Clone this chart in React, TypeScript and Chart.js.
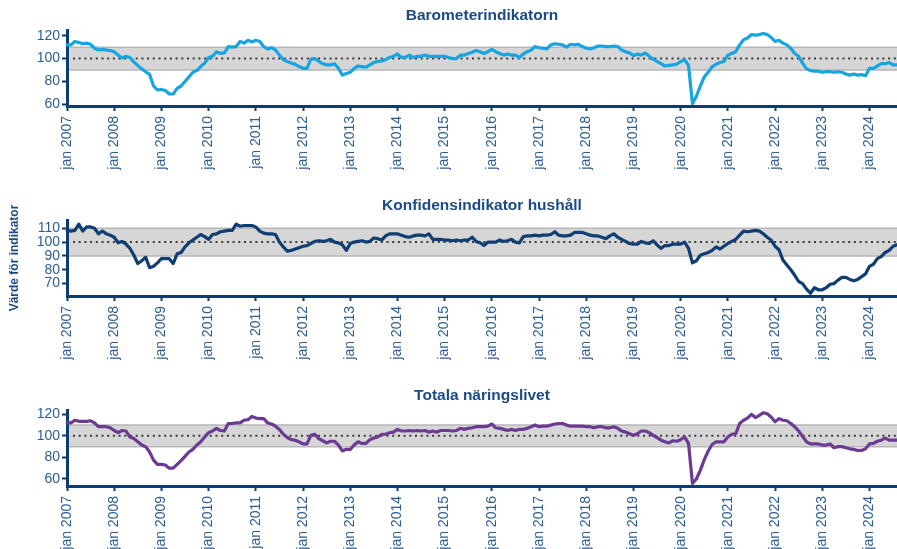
import React, { useEffect, useRef } from 'react';
import { Chart, registerables } from 'chart.js';

Chart.register(...registerables);

// ---- Data ----
const monthNames = ['jan', 'feb', 'mar', 'apr', 'maj', 'jun', 'jul', 'aug', 'sep', 'okt', 'nov', 'dec'];
const startYear = 2007;
const monthCount = 212; // jan 2007 .. aug 2024
const categories: string[] = Array.from({ length: monthCount }, (_, i) => `${monthNames[i % 12]} ${startYear + Math.floor(i / 12)}`);

const barometer: number[] = [
  112, 112, 115, 114, 113, 113.5, 112.5, 109, 107.5, 108, 107.5, 107,
  106, 103, 100.5, 102, 101, 97, 94, 91, 88.5, 86, 76, 72.5,
  73, 72, 69, 69, 74, 76, 80, 84, 88, 89.5, 93, 96,
  101, 102, 106, 104.5, 105, 110.5, 110, 110.5, 115, 113.5, 116, 114.5,
  116, 115, 110.5, 108.5, 109.5, 107.5, 103, 99, 97.5, 96, 95, 93,
  91.5, 91.5, 99.5, 100, 97.5, 95.5, 94.5, 94.5, 95.5, 91.5, 85.5, 87,
  88, 91.5, 93.5, 93, 92.5, 94.5, 96.5, 97.5, 98, 99, 101, 102,
  104, 101, 101, 103, 101, 102, 102, 103, 102, 102, 102, 102,
  102, 101, 100, 100, 103, 103, 104.5, 105.5, 107, 106, 104.5, 106,
  108, 106, 104.5, 103, 104, 103, 103, 101, 104, 106, 107.5, 110.5,
  109.5, 109, 108.5, 112, 113, 112.5, 112, 110, 112.5, 112, 112.5, 110.5,
  109, 108.5, 109.5, 111, 111, 110.5, 110.5, 111, 110.5, 107.5, 106, 105,
  102.5, 104, 103, 105, 102, 99.5, 97.5, 95.5, 93.5, 94, 94.5, 95,
  97.5, 99, 94, 60.5, 67, 76, 84, 88, 93, 95, 96.5, 97.5,
  103, 104.5, 106, 112, 116.5, 118, 121, 120.5, 121, 122, 121, 118.5,
  115, 116, 113.5, 112, 109, 104.5, 102, 96, 91, 89.5, 89, 89,
  88, 88.5, 88.5, 88, 88.5, 88, 86.5, 85.5, 86.5, 85.5, 86, 85,
  91.5, 91.5, 93.5, 95.5, 95.5, 96.5, 94.5, 94.5,
];

const hushall: number[] = [
  108.5, 108, 108.5, 113, 108, 111, 111, 110, 106, 108, 106, 105,
  103.5, 99.5, 100.5, 98.5, 95.5, 90.5, 84.5, 86.5, 89, 81.5, 82.5, 85,
  88, 88, 88, 84.5, 91.5, 92.5, 96.5, 99.5, 101.5, 103.5, 105.5, 104,
  102, 105.5, 106, 107.5, 108, 108.5, 108.5, 113, 111.5, 112, 112, 112,
  111, 108, 106.5, 106, 106, 105.5, 100, 96.5, 93.5, 94, 95, 96,
  97, 97.5, 99, 100.5, 101, 100.5, 101, 102, 100, 99.5, 98, 94,
  99, 100, 100.5, 101, 100, 100.5, 103, 102.5, 101.5, 104.5, 106, 106,
  106, 105, 104, 103.5, 104.5, 105, 105, 104.5, 106, 102, 102, 102,
  101.5, 101.5, 101, 101.5, 101, 101.5, 101.5, 103.5, 100.5, 99.5, 97.5, 100,
  100, 100, 101.5, 100.5, 101, 102, 100, 99.5, 104, 104.5, 104.5, 105,
  104.5, 105, 105, 105.5, 107.5, 105, 104.5, 104.5, 105, 107, 107, 107,
  106, 105, 104.5, 104.5, 103.5, 102.5, 104.5, 106, 103.5, 102, 100.5, 99,
  98.5, 98.5, 100.5, 99.5, 99, 101, 98, 95.5, 97.5, 97.5, 98.5, 98.5,
  98.5, 100, 95.5, 85, 86.5, 90.5, 91.5, 92.5, 94, 96.5, 95, 97,
  99, 100.5, 102, 105, 108, 107.5, 108, 108.5, 108, 106, 103.5, 101.5,
  97, 94.5, 87, 83.5, 80, 76, 71.5, 70, 66, 63, 67, 65.5,
  65.5, 67, 69.5, 70, 72.5, 74.5, 74.5, 73, 72, 73, 75, 77,
  82.5, 84, 88, 89.5, 92.5, 94, 97, 98,
];

const naringsliv: number[] = [
  112, 112, 114.5, 113.5, 113.5, 113.5, 114, 112, 108.5, 108.5, 108.5, 107.5,
  105, 103, 105, 104.5, 99, 97.5, 94.5, 91.5, 90, 85, 77.5, 73.5,
  73.5, 73, 70, 70, 73.5, 77, 81, 85, 87.5, 91.5, 94.5, 99,
  103, 104.5, 107, 105, 104.5, 111.5, 111.5, 112, 112, 114.5, 115, 118,
  116.5, 116, 116, 112, 111, 109, 106, 101.5, 98.5, 96.5, 96, 94.5,
  92.5, 92.5, 100.5, 101.5, 97.5, 95.5, 93.5, 95, 95, 91.5, 86, 87.5,
  87.5, 91.5, 94.5, 93, 93, 96.5, 98, 99, 101.5, 101.5, 103, 103.5,
  106, 104.5, 104.5, 105, 104.5, 105, 104.5, 105, 103.5, 104.5, 103.5, 105,
  105, 105, 104.5, 105, 107, 106, 107, 107.5, 108.5, 108.5, 108.5, 109,
  111, 107.5, 107, 106, 105, 106, 105, 106, 106, 107, 108.5, 110,
  108.5, 109, 109, 110, 111, 111.5, 111.5, 110, 109, 109, 109, 109,
  108.5, 108.5, 107.5, 108.5, 108.5, 107.5, 107.5, 108.5, 107, 104.5, 103.5, 102,
  100.5, 102, 104.5, 104.5, 103, 100.5, 98.5, 96, 94.5, 93.5, 95.5, 95,
  96.5, 99, 93, 56, 60, 68, 78, 86, 92, 94.5, 94.5, 94.5,
  99, 101.5, 102, 111.5, 114.5, 116.5, 120, 117, 119, 121.5, 120.5, 117.5,
  113, 116, 114.5, 114, 111.5, 108.5, 104.5, 99.5, 94.5, 92.5, 92.5, 92.5,
  91.5, 91.5, 92.5, 89, 90, 90, 89, 88, 87.5, 86.5, 86.5, 88,
  92.5, 93, 95, 96, 98, 96, 96, 96,
];

const titles = ['Barometerindikatorn', 'Konfidensindikator hushåll', 'Totala näringslivet'];
const yTitle = 'Värde för indikator';
const yTicksTop = [60, 80, 100, 120];
const yTicksMiddle = [70, 80, 90, 100, 110];
const yTicksBottom = [60, 80, 100, 120];
const bandLow = 90;
const bandHigh = 110;
const refLevel = 100;

// ---- Styling ----
const FONT = '"Liberation Sans", Arial, sans-serif';
const NAVY = '#0d3b74';
const TITLE_COLOR = '#1c4a86';
const LABEL_COLOR = '#2d5d94';
Chart.defaults.font.family = FONT;

const bandPlugin = {
  id: 'bandAndTitle',
  beforeDraw(chart: any) {
    const { ctx, chartArea: a, scales } = chart;
    const y = scales.y;
    const yHi = y.getPixelForValue(bandHigh);
    const yLo = y.getPixelForValue(bandLow);
    const yRef = y.getPixelForValue(refLevel);
    ctx.save();
    ctx.fillStyle = '#d6d6d6';
    ctx.fillRect(a.left, yHi, a.right - a.left, yLo - yHi);
    ctx.strokeStyle = '#b7b7b7';
    ctx.lineWidth = 1.5;
    ctx.beginPath();
    ctx.moveTo(a.left, yHi); ctx.lineTo(a.right, yHi);
    ctx.moveTo(a.left, yLo); ctx.lineTo(a.right, yLo);
    ctx.stroke();
    ctx.setLineDash([2, 3.7]);
    ctx.strokeStyle = '#3a3a3a';
    ctx.lineWidth = 2;
    ctx.beginPath();
    ctx.moveTo(a.left + 6, yRef); ctx.lineTo(a.right, yRef);
    ctx.stroke();
    ctx.restore();
  },
  afterDraw(chart: any, _args: any, opts: any) {
    const { ctx, chartArea: a } = chart;
    ctx.save();
    ctx.font = `bold 15.5px ${FONT}`;
    ctx.fillStyle = TITLE_COLOR;
    ctx.textAlign = 'center';
    ctx.textBaseline = 'middle';
    ctx.fillText(opts.text, (a.left + a.right) / 2, opts.y);
    ctx.restore();
  },
};

type PanelProps = {
  title: string;
  data: number[];
  color: string;
  yMin: number;
  yMax: number;
  yTicks: number[];
  showYTitle: boolean;
  top: number;
  height: number;
  areaTop: number;
  areaBottom: number;
  titleY: number;
};

function Panel(p: PanelProps) {
  const ref = useRef<HTMLCanvasElement | null>(null);
  useEffect(() => {
    if (!ref.current) return;
    const chart = new Chart(ref.current, {
      type: 'line',
      data: {
        labels: categories,
        datasets: [
          {
            data: p.data,
            borderColor: p.color,
            backgroundColor: p.color,
            borderWidth: 3.2,
            pointRadius: 0,
            tension: 0,
            borderJoinStyle: 'round',
            borderCapStyle: 'round',
          },
        ],
      },
      options: {
        animation: false,
        responsive: false,
        maintainAspectRatio: false,
        events: [],
        layout: { padding: { top: p.areaTop, left: 0, right: 0, bottom: 0 } },
        plugins: {
          legend: { display: false },
          tooltip: { enabled: false },
          title: { display: false },
          bandAndTitle: { text: p.title, y: p.titleY },
        } as any,
        scales: {
          x: {
            type: 'category',
            offset: false,
            grid: {
              display: true,
              drawOnChartArea: false,
              drawTicks: true,
              tickLength: 5,
              tickWidth: 2,
              color: (c: any) => (c.index % 12 === 0 ? NAVY : 'rgba(0,0,0,0)'),
              tickColor: (c: any) => (c.index % 12 === 0 ? NAVY : 'rgba(0,0,0,0)'),
            },
            border: { display: true, color: NAVY, width: 3 },
            ticks: {
              autoSkip: false,
              minRotation: 90,
              maxRotation: 90,
              padding: 5,
              color: LABEL_COLOR,
              font: { size: 14, family: FONT },
              callback: (_v: any, i: number) => (i % 12 === 0 ? categories[i] : ''),
            },
            afterFit: (s: any) => {
              s.height = p.height - p.areaBottom;
              s.paddingLeft = 0;
              s.paddingRight = 0;
            },
          },
          y: {
            min: p.yMin,
            max: p.yMax,
            afterBuildTicks: (s: any) => {
              s.ticks = p.yTicks.map((v) => ({ value: v }));
            },
            grid: {
              display: true,
              drawOnChartArea: false,
              drawTicks: true,
              tickLength: 5,
              tickWidth: 2,
              color: NAVY,
              tickColor: NAVY,
            },
            border: { display: true, color: NAVY, width: 3 },
            ticks: {
              autoSkip: false,
              color: LABEL_COLOR,
              padding: 2,
              font: { size: 14, family: FONT },
            },
            title: {
              display: p.showYTitle,
              text: yTitle,
              color: TITLE_COLOR,
              font: { size: 12, weight: 'bold', family: FONT },
              padding: { top: 7, bottom: 0 },
            },
            afterFit: (s: any) => {
              s.width = 67;
              s.paddingTop = 0;
              s.paddingBottom = 0;
            },
          },
        },
      },
      plugins: [bandPlugin as any],
    });
    return () => chart.destroy();
  }, []);
  return (
    <canvas
      ref={ref}
      width={897}
      height={p.height}
      style={{ position: 'absolute', left: 0, top: p.top, width: 897, height: p.height, display: 'block' }}
    />
  );
}

export default function App() {
  return (
    <div
      style={{
        position: 'absolute',
        left: 0,
        top: 0,
        width: 897,
        height: 549,
        overflow: 'hidden',
        background: '#ffffff',
      }}
    >
      <Panel title={titles[0]} data={barometer} color="#17a5e1" yMin={58.5} yMax={125} yTicks={yTicksTop}
        showYTitle={false} top={0} height={185} areaTop={30} areaBottom={106} titleY={16} />
      <Panel title={titles[1]} data={hushall} color="#0f3e72" yMin={61} yMax={116} yTicks={yTicksMiddle}
        showYTitle={true} top={185} height={190} areaTop={35} areaBottom={111} titleY={21} />
      <Panel title={titles[2]} data={naringsliv} color="#6b3a93" yMin={53.5} yMax={124} yTicks={yTicksBottom}
        showYTitle={false} top={375} height={190} areaTop={35} areaBottom={111} titleY={21} />
    </div>
  );
}
